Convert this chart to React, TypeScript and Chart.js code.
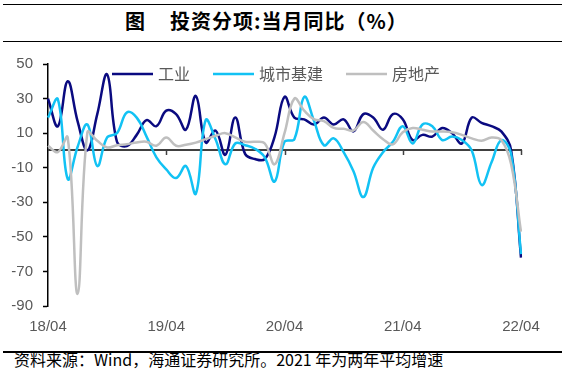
import React, { useEffect, useRef } from 'react';
import { Chart, registerables } from 'chart.js';

Chart.register(...registerables);

// x categories: monthly, 2018/04 .. 2022/04
const months: string[] = [
  '18/04', '18/05', '18/06', '18/07', '18/08', '18/09', '18/10', '18/11', '18/12',
  '19/01', '19/02', '19/03', '19/04', '19/05', '19/06', '19/07', '19/08', '19/09', '19/10', '19/11', '19/12',
  '20/01', '20/02', '20/03', '20/04', '20/05', '20/06', '20/07', '20/08', '20/09', '20/10', '20/11', '20/12',
  '21/01', '21/02', '21/03', '21/04', '21/05', '21/06', '21/07', '21/08', '21/09', '21/10', '21/11', '21/12',
  '22/01', '22/02', '22/03', '22/04',
];

const seriesNames: string[] = ['工业', '城市基建', '房地产'];

const industry: number[] = [
  30, 14, 40, 17, 0, 21, 44, 5, 2.5, 9, 17.5, 14,
  23, 21, 12, 31.5, 4.6, 11.5, -2.5, 19, -2, -5, -5, 8,
  31, 19, 18, 15, 19, 15, 18, 11, 21, 19, 12, 21,
  18, 6, 9, 8, 13, 10, 4, 19, 16, 14, 11, 0,
  -62,
];

const infrastructure: number[] = [
  19, 29.6, -16.5, 2, 15, -9, 7.5, 10, 22, 19, 8, -4,
  -11, -16, -9, -25, 17.5, 6.5, -8, 4, 3, 1, -4, -18,
  5, 6.5, 31, 17, 3, 7, -1, -12, -27, -10, -1, 5,
  14, 4, 15, 14, 6, 8, 6, 0, -20, -7, 6, -2,
  -60,
];

const realEstate: number[] = [
  2.7, -1, 7.5, -83, 10.4, 5.6, 1.7, 3, 3.6, 4.6, 5, 2.7,
  7.5, 2.7, 3.3, 4.5, 6.5, 8.5, 10, 7.5, 5, 5, 4, -8,
  10, 30, 23, 18, 17, 13, 12.5, 11.5, 16.5, 11.5, 6.5, 3.5,
  10.5, 13, 12, 11, 11, 10.5, 9, 7, 5.6, 7.5, 6, -8,
  -47,
];

const colors: string[] = ['#0A0A80', '#12C2F4', '#BFBFBF'];

const yMin = -90;
const yMax = 50;
const yStep = 20;

const tickFont = { family: '"Liberation Sans", Arial, sans-serif', size: 15 };
const cjkFont = '"Noto Sans CJK SC", "Noto Sans", sans-serif';

// zero baseline with small month ticks (x axis crosses at 0)
const zeroLinePlugin = {
  id: 'zeroLine',
  beforeDatasetsDraw(chart: any) {
    const x = chart.scales.x;
    const y = chart.scales.y;
    const area = chart.chartArea;
    const y0 = Math.round(y.getPixelForValue(0));
    const ctx = chart.ctx;
    ctx.save();
    ctx.strokeStyle = '#404040';
    ctx.lineWidth = 2;
    ctx.beginPath();
    ctx.moveTo(area.left, y0);
    ctx.lineTo(area.right + 1, y0);
    ctx.stroke();
    ctx.lineWidth = 1.5;
    months.forEach((m, i) => {
      if (i > 0 && m.endsWith('/04')) {
        const px = Math.round(x.getPixelForValue(i)) + 0.5;
        ctx.beginPath();
        ctx.moveTo(px, y0);
        ctx.lineTo(px, y0 + 5);
        ctx.stroke();
      }
    });
    ctx.restore();
  },
};

const innerLegendPlugin = {
  id: 'innerLegend',
  afterDatasetsDraw(chart: any) {
    const ctx = chart.ctx;
    const area = chart.chartArea;
    ctx.save();
    ctx.font = `16px ${cjkFont}`;
    ctx.textBaseline = 'middle';
    ctx.textAlign = 'left';
    const cy = area.top + 10;
    let cx = area.left + 64;
    chart.data.datasets.forEach((ds: any) => {
      ctx.strokeStyle = ds.borderColor;
      ctx.lineWidth = 2.5;
      ctx.beginPath();
      ctx.moveTo(cx, cy);
      ctx.lineTo(cx + 41, cy);
      ctx.stroke();
      cx += 46;
      ctx.fillStyle = '#595959';
      ctx.fillText(ds.label, cx, cy);
      cx += ctx.measureText(ds.label).width + 23;
    });
    ctx.restore();
  },
};

export default function App() {
  const canvasRef = useRef<HTMLCanvasElement | null>(null);

  useEffect(() => {
    document.body.style.margin = '0';
    const canvas = canvasRef.current;
    if (!canvas) return;
    const chart = new Chart(canvas, {
      type: 'line',
      data: {
        labels: months,
        datasets: [
          { label: seriesNames[0], data: industry, borderColor: colors[0], backgroundColor: colors[0], order: 3 },
          { label: seriesNames[1], data: infrastructure, borderColor: colors[1], backgroundColor: colors[1], order: 2 },
          { label: seriesNames[2], data: realEstate, borderColor: colors[2], backgroundColor: colors[2], order: 1 },
        ],
      },
      options: {
        responsive: false,
        animation: false,
        events: [],
        devicePixelRatio: 1,
        layout: { padding: { top: 19, right: 44, left: 0, bottom: 0 } },
        elements: {
          point: { radius: 0 },
          line: { tension: 0.4, borderWidth: 2.5, fill: false },
        },
        plugins: {
          legend: { display: false },
          tooltip: { enabled: false },
          title: { display: false },
        },
        scales: {
          x: {
            type: 'category',
            grid: { display: false, drawTicks: false },
            border: { display: false },
            ticks: {
              autoSkip: false,
              maxRotation: 0,
              minRotation: 0,
              padding: 12,
              color: '#595959',
              font: tickFont,
              callback: (_v: any, i: number) => (months[i].endsWith('/04') ? months[i] : ''),
            },
            afterFit: (s: any) => {
              s.height = 39;
            },
          },
          y: {
            min: yMin,
            max: yMax,
            ticks: { stepSize: yStep, padding: 10, color: '#595959', font: tickFont },
            grid: {
              drawOnChartArea: false,
              drawTicks: true,
              tickLength: 5,
              tickColor: '#000000',
              tickWidth: 1.5,
            },
            border: { display: true, color: '#000000', width: 1.5 },
            afterFit: (s: any) => {
              s.width = 48;
            },
          },
        },
      },
      plugins: [zeroLinePlugin, innerLegendPlugin],
    } as any);
    return () => chart.destroy();
  }, []);

  const rule = (top: number): React.CSSProperties => ({
    position: 'absolute',
    left: 3,
    width: 559,
    top,
    height: 1.5,
    background: '#000',
  });

  return (
    <div style={{ position: 'relative', width: 565, height: 379, background: '#fff', overflow: 'hidden' }}>
      <div style={rule(3.5)} />
      <div
        style={{
          position: 'absolute',
          left: 125,
          top: 9,
          fontFamily: cjkFont,
          fontWeight: 700,
          fontSize: 20,
          lineHeight: '24px',
          color: '#000',
          whiteSpace: 'nowrap',
          letterSpacing: 1,
        }}
      >
        图<span style={{ display: 'inline-block', width: 24 }} />投资分项:当月同比（%）
      </div>
      <div style={rule(40.5)} />
      <canvas
        ref={canvasRef}
        width={565}
        height={300}
        style={{ position: 'absolute', left: 0, top: 45, width: 565, height: 300 }}
      />
      <div style={rule(351)} />
      <div
        style={{
          position: 'absolute',
          left: 14,
          top: 350,
          fontFamily: cjkFont,
          fontSize: 16,
          lineHeight: '19px',
          color: '#000',
          whiteSpace: 'nowrap',
        }}
      >
        资料来源：Wind，海通证券研究所。2021 年为两年平均增速
      </div>
    </div>
  );
}
